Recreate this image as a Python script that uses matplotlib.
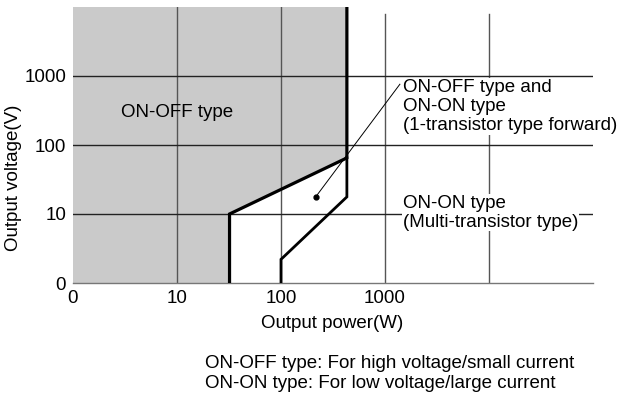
import matplotlib
matplotlib.use("Agg")
import matplotlib.pyplot as plt

plt.rcParams["font.family"] = ["Liberation Sans", "DejaVu Sans"]

# axis decades (power in W, voltage in V); the origin decade is labelled "0"
x_ticks = [1, 10, 100, 1000]
x_tick_labels = ["0", "10", "100", "1000"]
y_ticks = [1, 10, 100, 1000]
y_tick_labels = ["0", "10", "100", "1000"]
x_grid = [10, 100, 1000, 10000]
y_grid = [10, 100, 1000]

# ON-OFF region boundary (thick outline of the shaded area)
onoff_power = [32, 32, 430, 430]
onoff_voltage = [1, 10, 65, 10000]

# ON-ON region boundary
onon_power = [100, 100, 430, 430]
onon_voltage = [1, 2.2, 17.7, 65]

# marker for the overlap region and its leader
dot_power, dot_voltage = 215, 17.6
leader_power, leader_voltage = 1390, 760

FS = 13.5

fig = plt.figure(figsize=(6.2, 3.96), dpi=100)
ax = fig.add_axes([73 / 620, 113 / 396, 520 / 620, 276 / 396])
ax.set_xscale("log")
ax.set_yscale("log")
ax.set_xlim(1, 1e5)
ax.set_ylim(1, 1e4)

# shaded ON-OFF area: everything left of / above the boundary
fill_x = [1] + onoff_power + [1]
fill_y = [1] + onoff_voltage + [1e4]
ax.fill(fill_x, fill_y, color="#cacaca", lw=0, zorder=0)

for gx in x_grid:
    top = 1.0 if gx < 430 else 0.975
    ax.axvline(gx, ymax=top, color="#555555", lw=1.0, zorder=1)
for gy in y_grid:
    ax.axhline(gy, color="#222222", lw=1.0, zorder=1)

ax.plot(onoff_power, onoff_voltage, color="black", lw=2.3, zorder=4,
        solid_joinstyle="miter")
ax.plot(onon_power, onon_voltage, color="black", lw=2.0, zorder=4,
        solid_joinstyle="miter")

ax.plot([dot_power, leader_power], [dot_voltage, leader_voltage],
        color="black", lw=0.7, zorder=5)
ax.plot(dot_power, dot_voltage, "o", color="black", ms=3.5, zorder=5)

ax.text(10, 300, "ON-OFF type", ha="center", va="center", fontsize=FS,
        zorder=6)

box = dict(facecolor="white", edgecolor="none", pad=0.5)
ax.text(1490, 900, "ON-OFF type and\nON-ON type\n(1-transistor type forward)",
        ha="left", va="top", fontsize=FS, linespacing=1.15, bbox=box,
        zorder=6, clip_on=False)
ax.text(1490, 19, "ON-ON type\n(Multi-transistor type)",
        ha="left", va="top", fontsize=FS, linespacing=1.15, bbox=box,
        zorder=6)

ax.set_xticks(x_ticks)
ax.set_xticklabels(x_tick_labels)
ax.set_yticks(y_ticks)
ax.set_yticklabels(y_tick_labels)
ax.minorticks_off()
ax.tick_params(length=0, labelsize=FS)
ax.tick_params(axis="x", pad=5)
ax.tick_params(axis="y", pad=5)

for side in ("top", "right", "left"):
    ax.spines[side].set_visible(False)
ax.spines["bottom"].set_color("#777777")
ax.spines["bottom"].set_linewidth(1.0)

fig.text(14 / 620, 1 - 178 / 396, "Output voltage(V)", rotation=90,
         ha="center", va="center", fontsize=FS)
fig.text(332 / 620, 1 - 323 / 396, "Output power(W)", ha="center",
         va="center", fontsize=FS)
fig.text(205 / 620, 1 - 363 / 396,
         "ON-OFF type: For high voltage/small current", ha="left",
         va="center", fontsize=FS)
fig.text(205 / 620, 1 - 383 / 396,
         "ON-ON type: For low voltage/large current", ha="left",
         va="center", fontsize=FS)

fig.savefig("out.png", dpi=100)
